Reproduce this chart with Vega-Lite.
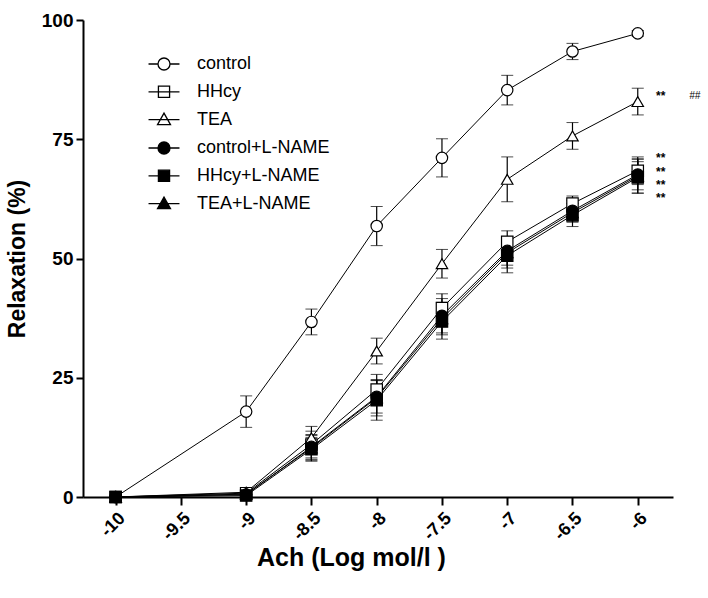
{
  "$schema": "https://vega.github.io/schema/vega-lite/v6.json",
  "width": 590,
  "height": 477,
  "autosize": {"type": "none"},
  "padding": {"left": 83, "top": 20, "right": 35, "bottom": 101},
  "background": "white",
  "config": {
    "view": {"stroke": null},
    "font": "Liberation Sans",
    "axis": {"grid": false, "domainColor": "black", "domainWidth": 2, "tickColor": "black", "tickWidth": 2, "labelColor": "black", "titleColor": "black", "labelFont": "Liberation Sans", "titleFont": "Liberation Sans", "labelFontWeight": "bold", "titleFontWeight": "bold"},
    "legend": {"labelFont": "Liberation Sans", "labelFontSize": 18, "labelColor": "black", "orient": "none", "symbolSize": 324, "symbolStrokeWidth": 1.3, "symbolOpacity": 1, "labelOffset": 23, "rowPadding": 8.8, "padding": 0}
  },
  "resolve": {"scale": {"shape": "independent", "fill": "independent"}, "legend": {"shape": "independent"}},
  "datasets": {
    "curves": [
      {"series": "control", "x": -10, "y": 0, "err": 0},
      {"series": "control", "x": -9, "y": 17.9, "err": 3.3},
      {"series": "control", "x": -8.5, "y": 36.7, "err": 2.7},
      {"series": "control", "x": -8, "y": 56.8, "err": 4.1},
      {"series": "control", "x": -7.5, "y": 71.1, "err": 4.0},
      {"series": "control", "x": -7, "y": 85.3, "err": 3.1},
      {"series": "control", "x": -6.5, "y": 93.4, "err": 1.7},
      {"series": "control", "x": -6, "y": 97.2, "err": 0.6},
      {"series": "HHcy", "x": -10, "y": 0, "err": 0},
      {"series": "HHcy", "x": -9, "y": 0.8, "err": 0.4},
      {"series": "HHcy", "x": -8.5, "y": 11.0, "err": 2.8},
      {"series": "HHcy", "x": -8, "y": 22.5, "err": 3.2},
      {"series": "HHcy", "x": -7.5, "y": 39.6, "err": 3.0},
      {"series": "HHcy", "x": -7, "y": 53.5, "err": 2.3},
      {"series": "HHcy", "x": -6.5, "y": 61.5, "err": 1.6},
      {"series": "HHcy", "x": -6, "y": 68.4, "err": 2.9},
      {"series": "TEA", "x": -10, "y": 0, "err": 0},
      {"series": "TEA", "x": -9, "y": 1.0, "err": 0.5},
      {"series": "TEA", "x": -8.5, "y": 12.4, "err": 2.4},
      {"series": "TEA", "x": -8, "y": 30.6, "err": 2.7},
      {"series": "TEA", "x": -7.5, "y": 48.9, "err": 3.0},
      {"series": "TEA", "x": -7, "y": 66.6, "err": 4.7},
      {"series": "TEA", "x": -6.5, "y": 75.7, "err": 2.8},
      {"series": "TEA", "x": -6, "y": 82.9, "err": 2.8},
      {"series": "control+L-NAME", "x": -10, "y": 0, "err": 0},
      {"series": "control+L-NAME", "x": -9, "y": 0.5, "err": 0.4},
      {"series": "control+L-NAME", "x": -8.5, "y": 10.5, "err": 2.6},
      {"series": "control+L-NAME", "x": -8, "y": 21.0, "err": 3.4},
      {"series": "control+L-NAME", "x": -7.5, "y": 38.0, "err": 3.6},
      {"series": "control+L-NAME", "x": -7, "y": 51.6, "err": 3.0},
      {"series": "control+L-NAME", "x": -6.5, "y": 60.0, "err": 2.2},
      {"series": "control+L-NAME", "x": -6, "y": 67.6, "err": 3.2},
      {"series": "HHcy+L-NAME", "x": -10, "y": 0, "err": 0},
      {"series": "HHcy+L-NAME", "x": -9, "y": 0.3, "err": 0.3},
      {"series": "HHcy+L-NAME", "x": -8.5, "y": 10.0, "err": 2.5},
      {"series": "HHcy+L-NAME", "x": -8, "y": 20.3, "err": 4.2},
      {"series": "HHcy+L-NAME", "x": -7.5, "y": 36.8, "err": 3.7},
      {"series": "HHcy+L-NAME", "x": -7, "y": 50.6, "err": 3.6},
      {"series": "HHcy+L-NAME", "x": -6.5, "y": 59.1, "err": 2.4},
      {"series": "HHcy+L-NAME", "x": -6, "y": 67.0, "err": 3.3},
      {"series": "TEA+L-NAME", "x": -10, "y": 0, "err": 0},
      {"series": "TEA+L-NAME", "x": -9, "y": 0.6, "err": 0.4},
      {"series": "TEA+L-NAME", "x": -8.5, "y": 10.3, "err": 2.6},
      {"series": "TEA+L-NAME", "x": -8, "y": 20.8, "err": 3.8},
      {"series": "TEA+L-NAME", "x": -7.5, "y": 37.4, "err": 3.4},
      {"series": "TEA+L-NAME", "x": -7, "y": 51.2, "err": 3.2},
      {"series": "TEA+L-NAME", "x": -6.5, "y": 59.6, "err": 2.0},
      {"series": "TEA+L-NAME", "x": -6, "y": 67.3, "err": 3.6}
    ],
    "stars": [
      {"x": -6, "y": 84.0, "label": "**"},
      {"x": -6, "y": 71.0, "label": "**"},
      {"x": -6, "y": 68.2, "label": "**"},
      {"x": -6, "y": 65.4, "label": "**"},
      {"x": -6, "y": 62.6, "label": "**"}
    ],
    "hashes": [
      {"x": -6, "y": 84.0, "label": "##"}
    ]
  },
  "layer": [
    {
      "data": {"name": "curves"},
      "mark": {"type": "line", "color": "black", "strokeWidth": 1},
      "encoding": {
        "x": {"field": "x", "type": "quantitative", "title": "Ach (Log mol/l )", "scale": {"domain": [-10.25, -5.73], "nice": false, "zero": false},
          "axis": {"values": [-10, -9.5, -9, -8.5, -8, -7.5, -7, -6.5, -6], "labelExpr": "'' + datum.value", "labelAngle": -45, "labelFontSize": 18, "tickSize": 8, "labelPadding": 4, "titleFontSize": 25, "titlePadding": 2, "titleX": 268}},
        "y": {"field": "y", "type": "quantitative", "title": "Relaxation (%)", "scale": {"domain": [0, 100], "nice": false},
          "axis": {"values": [0, 25, 50, 75, 100], "labelFontSize": 19, "tickSize": 7, "labelPadding": 3, "titleFontSize": 23, "titlePadding": 12}},
        "detail": {"field": "series"}
      }
    },
    {
      "data": {"name": "curves"},
      "transform": [{"filter": "datum.series == 'control' || datum.series == 'HHcy' || datum.series == 'TEA'"}],
      "mark": {"type": "point", "filled": true, "fill": "white", "stroke": "black", "strokeWidth": 1.3, "opacity": 0},
      "encoding": {
        "x": {"field": "x", "type": "quantitative"},
        "y": {"field": "y", "type": "quantitative"},
        "shape": {"field": "series", "type": "nominal",
          "scale": {"domain": ["control", "HHcy", "TEA"], "range": [
            "M-1.72,0H-0.667M0.667,0H1.72M0.667,0A0.667,0.667,0,1,1,-0.667,0A0.667,0.667,0,1,1,0.667,0Z",
            "M-1.72,0H1.72M-0.62,-0.62H0.62V0.62H-0.62Z",
            "M-1.72,0H1.72M0,-0.72L0.72,0.56H-0.72Z"]},
          "legend": {"title": null, "legendX": 71, "legendY": 34}}
      }
    },
    {
      "data": {"name": "curves"},
      "transform": [{"filter": "datum.series == 'control+L-NAME' || datum.series == 'HHcy+L-NAME' || datum.series == 'TEA+L-NAME'"}],
      "mark": {"type": "point", "filled": true, "fill": "black", "stroke": "black", "strokeWidth": 1.3, "opacity": 0},
      "encoding": {
        "x": {"field": "x", "type": "quantitative"},
        "y": {"field": "y", "type": "quantitative"},
        "shape": {"field": "series", "type": "nominal",
          "scale": {"domain": ["control+L-NAME", "HHcy+L-NAME", "TEA+L-NAME"], "range": [
            "M-1.72,0H-0.667M0.667,0H1.72M0.667,0A0.667,0.667,0,1,1,-0.667,0A0.667,0.667,0,1,1,0.667,0Z",
            "M-1.72,0H1.72M-0.62,-0.62H0.62V0.62H-0.62Z",
            "M-1.72,0H1.72M0,-0.72L0.72,0.56H-0.72Z"]},
          "legend": {"title": null, "legendX": 71, "legendY": 118}}
      }
    },
    {
      "data": {"name": "curves"},
      "mark": {"type": "errorbar", "color": "black", "ticks": {"size": 12, "color": "black", "strokeWidth": 1.2}, "rule": {"strokeWidth": 1.2}},
      "encoding": {
        "x": {"field": "x", "type": "quantitative", "title": "Ach (Log mol/l )"},
        "y": {"field": "y", "type": "quantitative", "title": "Relaxation (%)"},
        "yError": {"field": "err"},
        "detail": {"field": "series"}
      }
    },
    {
      "data": {"name": "curves"},
      "mark": {"type": "point", "filled": true, "stroke": "black", "strokeWidth": 1.2, "opacity": 1, "size": 130},
      "encoding": {
        "x": {"field": "x", "type": "quantitative", "title": "Ach (Log mol/l )"},
        "y": {"field": "y", "type": "quantitative", "title": "Relaxation (%)"},
        "shape": {"field": "series", "type": "nominal", "legend": null,
          "scale": {"domain": ["control", "HHcy", "TEA", "control+L-NAME", "HHcy+L-NAME", "TEA+L-NAME"], "range": ["circle", "square", "triangle-up", "circle", "square", "triangle-up"]}},
        "fill": {"field": "series", "type": "nominal", "legend": null,
          "scale": {"domain": ["control", "HHcy", "TEA", "control+L-NAME", "HHcy+L-NAME", "TEA+L-NAME"], "range": ["white", "white", "white", "black", "black", "black"]}}
      }
    },
    {
      "data": {"name": "stars"},
      "mark": {"type": "text", "dx": 23, "fontSize": 12, "fontWeight": "bold", "baseline": "middle", "align": "center", "color": "black", "font": "Liberation Sans"},
      "encoding": {
        "x": {"field": "x", "type": "quantitative"},
        "y": {"field": "y", "type": "quantitative"},
        "text": {"field": "label"}
      }
    },
    {
      "data": {"name": "hashes"},
      "mark": {"type": "text", "dx": 57, "fontSize": 10, "baseline": "middle", "align": "center", "color": "black", "font": "Liberation Sans", "fontStyle": "italic"},
      "encoding": {
        "x": {"field": "x", "type": "quantitative"},
        "y": {"field": "y", "type": "quantitative"},
        "text": {"field": "label"}
      }
    }
  ]
}
